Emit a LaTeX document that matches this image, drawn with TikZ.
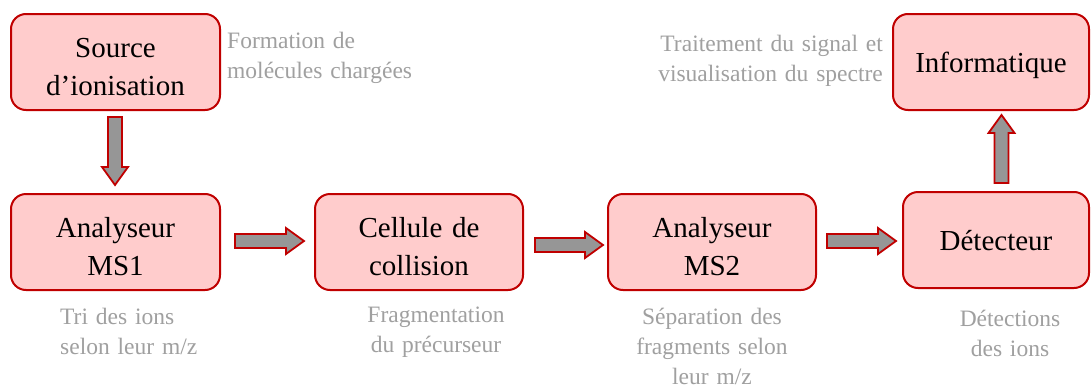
\documentclass[tikz,border=0pt]{standalone}
\usepackage{fontspec}
\setmainfont{Liberation Serif}
\usetikzlibrary{calc}
\definecolor{boxfill}{HTML}{FFCCCC}
\definecolor{boxline}{HTML}{C00000}
\definecolor{notegray}{HTML}{A0A0A0}
\definecolor{arrowfill}{HTML}{969696}
\begin{document}
\begin{tikzpicture}[x=1pt,y=-1pt,
  box/.style={draw=boxline, fill=boxfill, line width=2pt, rounded corners=15pt,
    inner sep=0pt, outer sep=0pt, minimum height=96pt, text width=180pt, align=center,
    font=\fontsize{29}{38}\selectfont},
  twolines/.style={text height=20pt, text depth=30pt},
  oneline/.style={text height=20pt, text depth=0pt},
  gnote/.style={text=notegray, font=\fontsize{23.5}{30}\selectfont, inner sep=0pt,
    text width=250pt},
  blockarrow/.style={draw=boxline, fill=arrowfill, line width=1.8pt,
    to path={let \p1=(\tikztostart), \p2=(\tikztotarget), \p3=($(\p2)!18pt!(\p1)$) in
      ($(\p1)!7pt!90:(\p2)$) -- ($(\p3)!7pt!90:(\p2)$) -- ($(\p3)!13pt!90:(\p2)$)
      -- (\p2) -- ($(\p3)!13pt!-90:(\p2)$) -- ($(\p3)!7pt!-90:(\p2)$)
      -- ($(\p1)!7pt!-90:(\p2)$) -- cycle}}
]
\path[fill=white, use as bounding box] (0,0) rectangle (1091,388);

% boxes
\node[box, twolines, minimum width=209pt] (src) at (115.5,62) {Source\\d’ionisation};
\node[box, twolines, minimum width=209pt] (ms1) at (115.5,242) {Analyseur\\MS1};
\node[box, twolines, minimum width=208pt] (cell) at (419,242) {Cellule de\\collision};
\node[box, twolines, minimum width=208pt] (ms2) at (712,242) {Analyseur\\MS2};
\node[box, oneline, minimum width=186pt] (det) at (996,240) {Détecteur};
\node[box, oneline, minimum width=196pt] (info) at (991,62) {Informatique};

% block arrows
\draw[blockarrow] ($(src.south)+(-0.5,7)$) to ($(ms1.north)+(-0.5,-9)$);
\draw[blockarrow] ($(ms1.east)+(15,-1)$) to ($(cell.west)+(-11,-1)$);
\draw[blockarrow] ($(cell.east)+(12,3)$) to ($(ms2.west)+(-5,3)$);
\draw[blockarrow] ($(ms2.east)+(11,-1)$) to ($(det.west)+(-7,1)$);
\draw[blockarrow] ($(det.north)+(5.5,-9)$) to ($(info.south)+(10.5,5)$);

% notes
\node[gnote, align=left, anchor=base west] (nsrc) at (227,48.5) {Formation de\\molécules chargées};
\node[gnote, align=right, anchor=base east] (ninfo) at (883,51.5) {Traitement du signal et\\visualisation du spectre};
\node[gnote, align=left, anchor=base west] (nms1) at (60,324) {Tri des ions\\selon leur m/z};
\node[gnote, align=center, anchor=base] (ncell) at (436,322) {Fragmentation\\du précurseur};
\node[gnote, align=center, anchor=base] (nms2) at (712,324) {Séparation des\\fragments selon\\leur m/z};
\node[gnote, align=center, anchor=base] (ndet) at (1010,326) {Détections\\des ions};
\end{tikzpicture}
\end{document}
